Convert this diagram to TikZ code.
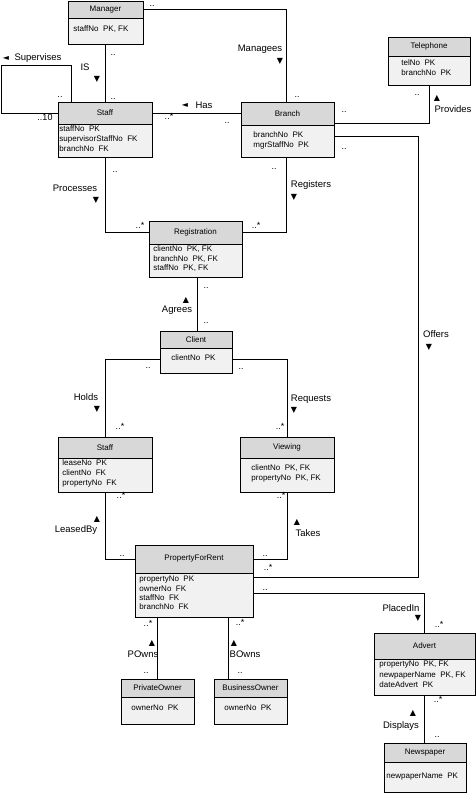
\documentclass[tikz,border=0pt]{standalone}
\usepackage{fontspec}
\setmainfont{Liberation Sans}
\newfontfamily\symfont{DejaVu Sans}
\definecolor{headc}{RGB}{216,216,216}
\definecolor{bodyc}{RGB}{241,241,241}
\tikzset{
  every path/.style={line width=0.9pt},
  ebox/.style={draw, fill=bodyc, inner sep=0pt, outer sep=0pt},
  hbox/.style={draw, fill=headc},
  etitle/.style={font=\fontsize{8}{10}\selectfont, inner sep=0pt},
  ebody/.style={font=\fontsize{8}{10}\selectfont, inner sep=0pt, anchor=base west},
  lab/.style={font=\fontsize{9.5}{11}\selectfont, inner sep=0pt},
  tri/.style={font=\symfont\fontsize{8}{9}\selectfont, inner sep=0pt},
  mult/.style={font=\fontsize{9}{9}\selectfont, inner sep=0pt, anchor=base},
  conn/.style={draw, line width=0.9pt}
}
\newcommand\ebodytext[1]{\begin{tabular}[t]{@{}l@{}}#1\end{tabular}}
% #1 name, #2 x1, #3 y1, #4 x2, #5 y2, #6 header bottom, #7 title, #8 body anchor, #9 body
\newcommand\entity[9]{%
  \node[ebox, minimum width={(#4-#2)*1pt}, minimum height={(#5-#3)*1pt}] (#1) at ({(#2+#4)/2},{(#3+#5)/2}) {};
  \draw[hbox] (#1.north west) rectangle (#4,#6);
  \node[etitle] (#1-t) at ({(#2+#4)/2},{(#3+#6)/2}) {#7};
  \node[ebody] (#1-b) at (#8) {\ebodytext{#9}};
}
\newcommand\gapsp{\ \ }
\begin{document}
\begin{tikzpicture}[x=1pt,y=-1pt]
\useasboundingbox (0,0) rectangle (476,793);
% entities
\entity{mgr}{68}{1}{143}{44}{18}{Manager}{73,31.7}{staffNo\gapsp PK, FK}
\entity{st}{58}{102}{152}{157}{124}{Staff}{59,131.2}{staffNo\gapsp PK\\supervisorStaffNo\gapsp FK\\branchNo\gapsp FK}
\entity{br}{241}{102}{334}{157}{125}{Branch}{253,137.7}{branchNo\gapsp PK\\mgrStaffNo\gapsp PK}
\entity{tel}{388}{37}{470}{85}{56}{Telephone}{401,65.7}{telNo\gapsp PK\\branchNo\gapsp PK}
\entity{reg}{149}{221}{242}{277}{244}{Registration}{153,251.7}{clientNo\gapsp PK, FK\\[-0.5pt]branchNo\gapsp PK, FK\\[-0.5pt]staffNo\gapsp PK, FK}
\entity{cl}{160}{331}{232}{373}{348}{Client}{171,360.7}{clientNo\gapsp PK}
\entity{ls}{58}{437}{152}{492}{458}{Staff}{62,465.7}{leaseNo\gapsp PK\\clientNo\gapsp FK\\propertyNo\gapsp FK}
\entity{vw}{240}{437}{334}{492}{458}{Viewing}{251,470.7}{clientNo\gapsp PK, FK\\propertyNo\gapsp PK, FK}
\entity{pfr}{135}{545}{253}{617}{573}{PropertyForRent}{139,581.7}{propertyNo\gapsp PK\\[-0.7pt]ownerNo\gapsp FK\\[-0.7pt]staffNo\gapsp FK\\[-0.7pt]branchNo\gapsp FK}
\entity{po}{121}{679}{194}{724}{697}{PrivateOwner}{131,710.7}{ownerNo\gapsp PK}
\entity{bo}{214}{679}{287}{724}{697}{BusinessOwner}{224,710.7}{ownerNo\gapsp PK}
\entity{adv}{374}{633}{475}{695}{659}{Advert}{379,666.7}{propertyNo\gapsp PK, FK\\[0.5pt]newpaperName\gapsp PK, FK\\[0.5pt]dateAdvert\gapsp PK}
\entity{nw}{384}{743}{466}{792}{762}{Newspaper}{386,778.7}{newpaperName\gapsp PK}

% connectors
\draw[conn] (mgr.east |- 0,9) -| (br.north -| 286,0);
\draw[conn] (mgr.south -| 105,0) -- (st.north -| 105,0);
\draw[conn] (st.north -| 71,0) -- (71,65) -- (1,65) -- (1,113) -- (st.west |- 0,113);
\draw[conn] (st.east |- 0,113) -- (br.west |- 0,113);
\draw[conn] (br.east |- 0,123) -| (tel.south -| 429,0);
\draw[conn] (br.east |- 0,136) -| (418,577) -- (pfr.east |- 0,577);
\draw[conn] (st.south -| 105,0) |- (reg.west |- 0,232);
\draw[conn] (br.south -| 286,0) |- (reg.east |- 0,232);
\draw[conn] (reg.south -| 197,0) -- (cl.north -| 197,0);
\draw[conn] (cl.west |- 0,359) -| (ls.north -| 105,0);
\draw[conn] (cl.east |- 0,359) -| (vw.north -| 287,0);
\draw[conn] (ls.south -| 105,0) |- (pfr.west |- 0,559);
\draw[conn] (vw.south -| 287,0) |- (pfr.east |- 0,559);
\draw[conn] (pfr.east |- 0,593) -| (adv.north -| 424,0);
\draw[conn] (pfr.south -| 157,0) -- (po.north -| 157,0);
\draw[conn] (pfr.south -| 228,0) -- (bo.north -| 228,0);
\draw[conn] (adv.south -| 424,0) -- (nw.north -| 424,0);

% association labels
\node[lab] (l-is) at (85,67) {IS};
\node[tri] (t-is) at (97,79) {▼};
\node[lab] (l-man) at (260,49) {Managees};
\node[tri] (t-man) at (280,61) {▼};
\node[tri] (t-sup) at (6,58) {◄};
\node[lab] (l-sup) at (38,58) {Supervises};
\node[tri] (t-has) at (185,105) {◄};
\node[lab] (l-has) at (204,105) {Has};
\node[tri] (t-pro) at (437,98) {▲};
\node[lab] (l-pro) at (453,109) {Provides};
\node[lab] (l-proc) at (75,188) {Processes};
\node[tri] (t-proc) at (96,200) {▼};
\node[lab] (l-reg) at (311,185) {Registers};
\node[tri] (t-reg) at (294,197) {▼};
\node[tri] (t-agr) at (186,300) {▲};
\node[lab] (l-agr) at (177,310) {Agrees};
\node[lab] (l-hol) at (86,397) {Holds};
\node[tri] (t-hol) at (97,409) {▼};
\node[lab] (l-req) at (311,399) {Requests};
\node[tri] (t-req) at (294,410) {▼};
\node[lab] (l-off) at (436,334) {Offers};
\node[tri] (t-off) at (429,347) {▼};
\node[tri] (t-lea) at (97,519) {▲};
\node[lab] (l-lea) at (76,530) {LeasedBy};
\node[tri] (t-tak) at (297,522) {▲};
\node[lab] (l-tak) at (308,533) {Takes};
\node[lab] (l-pla) at (401,608) {PlacedIn};
\node[tri] (t-pla) at (418,618) {▼};
\node[tri] (t-pow) at (152,643) {▲};
\node[lab] (l-pow) at (143,654) {POwns};
\node[tri] (t-bow) at (234,643) {▲};
\node[lab] (l-bow) at (245,654) {BOwns};
\node[tri] (t-dis) at (413,713) {▲};
\node[lab] (l-dis) at (401,726) {Displays};

% multiplicities
\node[mult] (m1) at (152,6.5) {..};
\node[mult] (m2) at (297,97) {..};
\node[mult] (m3) at (113,55) {..};
\node[mult] (m4) at (113,99) {..};
\node[mult] (m5) at (60,97) {..};
\node[mult] (m6) at (45,120) {..10};
\node[mult] (m7) at (169,119) {..*};
\node[mult] (m8) at (227,123) {..};
\node[mult] (m9) at (417,95) {..};
\node[mult] (m10) at (344,112) {..};
\node[mult] (m11) at (344,149) {..};
\node[mult] (m12) at (268,570) {..*};
\node[mult] (m13) at (115,172) {..};
\node[mult] (m14) at (140,228) {..*};
\node[mult] (m15) at (274,169) {..};
\node[mult] (m16) at (256,228) {..*};
\node[mult] (m17) at (206,288) {..};
\node[mult] (m18) at (206,323) {..};
\node[mult] (m19) at (148,368) {..};
\node[mult] (m20) at (120,429) {..*};
\node[mult] (m21) at (241,369) {..};
\node[mult] (m22) at (280,429) {..*};
\node[mult] (m23) at (121,498) {..*};
\node[mult] (m24) at (122,556) {..};
\node[mult] (m25) at (281,498) {..*};
\node[mult] (m26) at (265,556) {..};
\node[mult] (m27) at (265,590) {..};
\node[mult] (m28) at (439,627) {..*};
\node[mult] (m29) at (148,626) {..*};
\node[mult] (m30) at (146,673) {..};
\node[mult] (m31) at (240,625) {..*};
\node[mult] (m32) at (240,673) {..};
\node[mult] (m33) at (438,702) {..*};
\node[mult] (m34) at (437,737) {..};
\end{tikzpicture}
\end{document}
